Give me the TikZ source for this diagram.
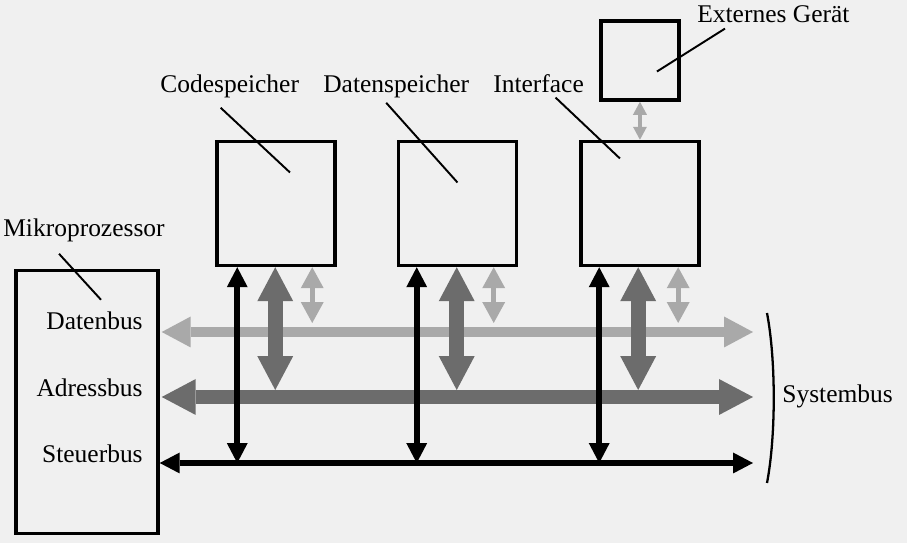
\documentclass[tikz,border=0pt]{standalone}
\usepackage{fontspec}
\setmainfont{Liberation Serif}
\usepackage{tikz}
\usetikzlibrary{arrows.meta, positioning, calc}
\definecolor{bglight}{HTML}{F0F0F0}
\definecolor{buslight}{HTML}{A9A9A9}
\definecolor{busdark}{HTML}{6C6C6C}

\begin{document}
\begin{tikzpicture}[x=0.02cm, y=-0.02cm,
  every node/.style={font=\fontsize{14.5}{17}\selectfont},
  unit/.style={draw, line width=2pt, inner sep=0pt, minimum width=2.36cm, minimum height=2.48cm},
  lbl/.style={anchor=base west, inner sep=0pt},
  pin/.style={line width=1.1pt},
  daten/.style={color=buslight, line width=6.2pt,
    {Triangle[length=0.58cm, width=0.62cm, line width=0pt]}-{Triangle[length=0.58cm, width=0.62cm, line width=0pt]}},
  addr/.style={color=busdark, line width=8.4pt,
    {Triangle[length=0.68cm, width=0.72cm, line width=0pt]}-{Triangle[length=0.68cm, width=0.72cm, line width=0pt]}},
  ctrl/.style={color=black, line width=3.6pt,
    {Triangle[length=0.4cm, width=0.42cm, line width=0pt]}-{Triangle[length=0.4cm, width=0.42cm, line width=0pt]}},
  dsmall/.style={color=buslight, line width=2.8pt,
    {Triangle[length=0.42cm, width=0.46cm, line width=0pt]}-{Triangle[length=0.42cm, width=0.46cm, line width=0pt]}},
  exlink/.style={color=buslight, line width=2.2pt,
    {Triangle[length=0.26cm, width=0.28cm, line width=0pt]}-{Triangle[length=0.26cm, width=0.28cm, line width=0pt]}}
]
  \fill[bglight] (0,0) rectangle (907,543);
  \useasboundingbox (0,0) rectangle (907,543);

  % Boxes
  \node[unit, minimum width=2.84cm, minimum height=5.26cm] (mikro) at (87,402) {};
  \node[unit] (code) at (276,203.5) {};
  \node[unit, right=1.2cm of code] (daten) {};
  \node[unit, right=1.22cm of daten] (iface) {};
  \node[unit, minimum width=1.56cm, minimum height=1.58cm, above=0.76cm of iface] (ext) {};

  % Labels
  \node[lbl] (mklbl) at (3,237) {Mikroprozessor};
  \node[lbl] (cslbl) at (160,93) {Codespeicher};
  \node[lbl] (dslbl) at (323,93) {Datenspeicher};
  \node[lbl] (iflbl) at (493,93) {Interface};
  \node[lbl] (exlbl) at (697,23) {Externes Gerät};
  \node[lbl, anchor=base east] (dbus) at (143,330) {Datenbus};
  \node[lbl, anchor=base east] (abus) at (143,397) {Adressbus};
  \node[lbl, anchor=base east] (sbus) at (143,463) {Steuerbus};
  \node[lbl] (sysbus) at (782,403) {Systembus};

  % Leader lines
  \draw[pin] ($(mklbl.south)+(-25,11)$) -- ($(mikro.north)+(14,31)$);
  \draw[pin] ($(cslbl.south)+(-9,9)$) -- ($(code.center)+(14,-31)$);
  \draw[pin] ($(dslbl.south)+(-10,4)$) -- ($(daten.center)+(0,-21)$);
  \draw[pin] ($(iflbl.south)+(17,4)$) -- ($(iface.center)+(-20,-45)$);
  \draw[pin] ($(exlbl.south west)+(28,5)$) -- ($(ext.center)+(17,11)$);

  % Bus ends
  \coordinate (dR) at (753,332);
  \coordinate (aR) at (753,397);
  \coordinate (sR) at (753,463);

  % Horizontal buses
  \draw[daten] ([xshift=0.04cm]mikro.east |- dR) -- (dR);
  \draw[addr] ([xshift=0.04cm]mikro.east |- aR) -- (aR);
  \draw[ctrl] (mikro.east |- sR) -- (sR);

  % Taps from the boxes
  \draw[dsmall] ([xshift=1.94cm]code.south west) -- ([xshift=1.94cm, yshift=0.18cm]code.south west |- dR);
  \draw[dsmall] ([xshift=1.94cm]daten.south west) -- ([xshift=1.94cm, yshift=0.18cm]daten.south west |- dR);
  \draw[dsmall] ([xshift=1.98cm]iface.south west) -- ([xshift=1.98cm, yshift=0.18cm]iface.south west |- dR);
  \draw[addr] ([xshift=1.2cm]code.south west) -- ([xshift=1.2cm, yshift=0.14cm]code.south west |- aR);
  \draw[addr] ([xshift=1.2cm]daten.south west) -- ([xshift=1.2cm, yshift=0.14cm]daten.south west |- aR);
  \draw[addr] ([xshift=1.18cm]iface.south west) -- ([xshift=1.18cm, yshift=0.14cm]iface.south west |- aR);
  \draw[ctrl] ([xshift=0.44cm]code.south west) -- ([xshift=0.44cm]code.south west |- sR);
  \draw[ctrl] ([xshift=0.4cm]daten.south west) -- ([xshift=0.4cm]daten.south west |- sR);
  \draw[ctrl] ([xshift=0.4cm]iface.south west) -- ([xshift=0.4cm]iface.south west |- sR);
  \draw[exlink] (ext.south) -- (iface.north);

  % Systembus bracket
  \draw[line width=1.3pt] (767,313) .. controls (776,360) and (776,436) .. (767,483);
\end{tikzpicture}
\end{document}
